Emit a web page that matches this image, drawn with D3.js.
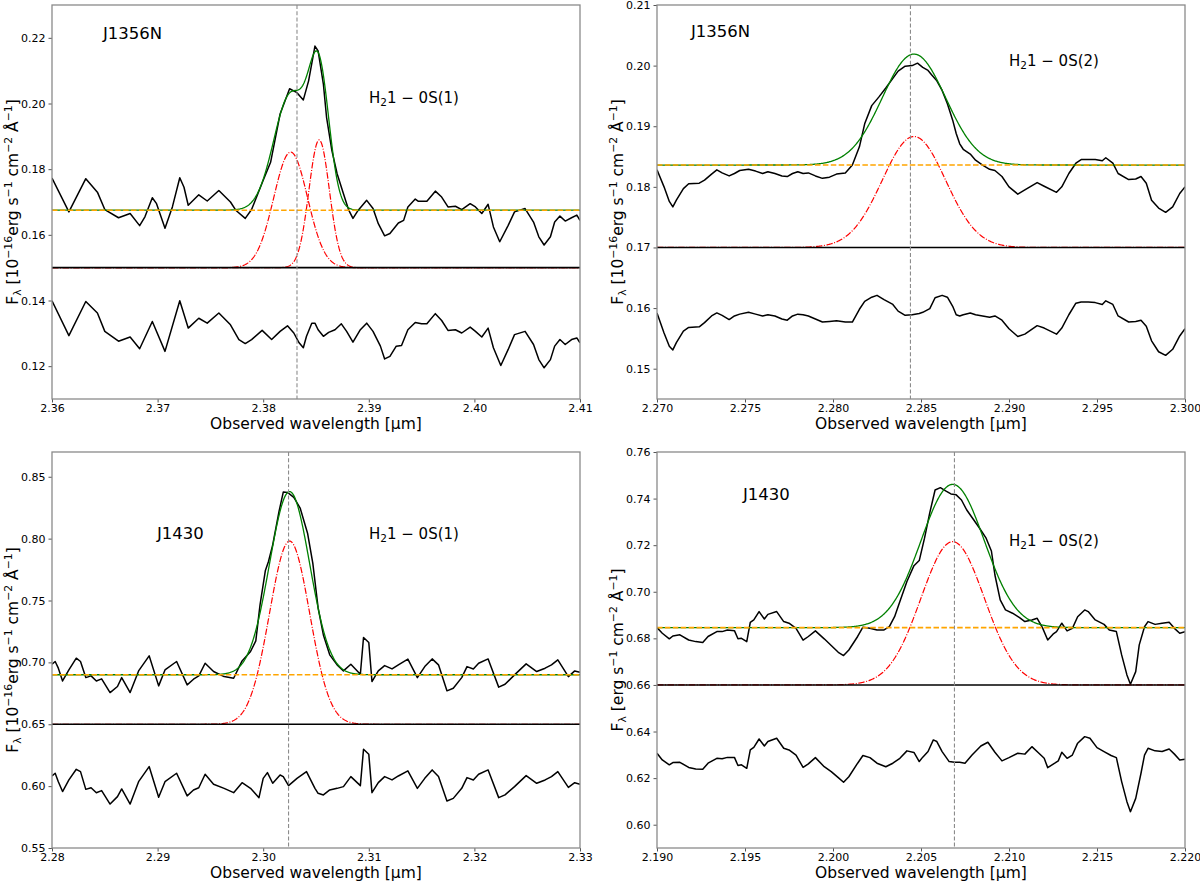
<!DOCTYPE html>
<html>
<head>
<meta charset="utf-8">
<script src="https://cdn.jsdelivr.net/npm/d3@7"></script>
<style>
  body { margin: 0; background: #fff; }
  svg { display: block; font-family: "DejaVu Sans", sans-serif; }
</style>
</head>
<body>
<svg id="fig" width="1200" height="882"></svg>
<script>
// ---- J1356N, H2 1-0S(1) ----
const j1356S1Spec = [[2.3600,0.1773],[2.3616,0.1670],[2.3632,0.1771],[2.3643,0.1730],[2.3650,0.1677],[2.3663,0.1652],[2.3674,0.1665],[2.3683,0.1628],[2.3688,0.1655],[2.3695,0.1713],[2.3699,0.1695],[2.3707,0.1620],[2.3714,0.1685],[2.3721,0.1774],[2.3725,0.1745],[2.3729,0.1690],[2.3739,0.1722],[2.3747,0.1703],[2.3758,0.1735],[2.3769,0.1700],[2.3774,0.1675],[2.3783,0.1650],[2.3789,0.1677],[2.3800,0.1766],[2.3807,0.1821],[2.3816,0.1968],[2.3825,0.2045],[2.3832,0.2033],[2.3838,0.2011],[2.3843,0.2069],[2.3849,0.2175],[2.3852,0.2160],[2.3857,0.2059],[2.3860,0.1958],[2.3865,0.1857],[2.3870,0.1786],[2.3876,0.1725],[2.3881,0.1675],[2.3885,0.1650],[2.3890,0.1675],[2.3898,0.1705],[2.3904,0.1680],[2.3909,0.1634],[2.3915,0.1597],[2.3920,0.1604],[2.3928,0.1636],[2.3933,0.1644],[2.3937,0.1685],[2.3944,0.1709],[2.3947,0.1702],[2.3955,0.1702],[2.3963,0.1733],[2.3969,0.1715],[2.3975,0.1685],[2.3982,0.1687],[2.3988,0.1677],[2.3996,0.1695],[2.4001,0.1685],[2.4007,0.1665],[2.4013,0.1693],[2.4018,0.1624],[2.4024,0.1579],[2.4032,0.1629],[2.4038,0.1670],[2.4048,0.1680],[2.4056,0.1639],[2.4061,0.1594],[2.4066,0.1569],[2.4072,0.1594],[2.4076,0.1639],[2.4081,0.1657],[2.4086,0.1642],[2.4092,0.1652],[2.4097,0.1660],[2.4100,0.1644]];
const j1356S1Resid = [[2.3600,0.1399],[2.3616,0.1293],[2.3632,0.1397],[2.3643,0.1362],[2.3650,0.1306],[2.3663,0.1276],[2.3674,0.1289],[2.3683,0.1253],[2.3695,0.1336],[2.3707,0.1245],[2.3721,0.1399],[2.3729,0.1316],[2.3739,0.1346],[2.3747,0.1331],[2.3758,0.1362],[2.3769,0.1326],[2.3777,0.1281],[2.3783,0.1269],[2.3789,0.1281],[2.3799,0.1309],[2.3808,0.1281],[2.3816,0.1306],[2.3823,0.1323],[2.3829,0.1301],[2.3834,0.1271],[2.3838,0.1256],[2.3841,0.1291],[2.3846,0.1331],[2.3849,0.1331],[2.3852,0.1311],[2.3857,0.1291],[2.3862,0.1303],[2.3868,0.1311],[2.3874,0.1329],[2.3879,0.1306],[2.3885,0.1273],[2.3892,0.1311],[2.3898,0.1331],[2.3904,0.1306],[2.3911,0.1261],[2.3915,0.1222],[2.3920,0.1230],[2.3926,0.1261],[2.3931,0.1263],[2.3937,0.1311],[2.3944,0.1333],[2.3950,0.1329],[2.3955,0.1329],[2.3963,0.1360],[2.3969,0.1339],[2.3975,0.1309],[2.3982,0.1311],[2.3988,0.1301],[2.3996,0.1319],[2.4001,0.1306],[2.4007,0.1289],[2.4013,0.1316],[2.4018,0.1256],[2.4025,0.1202],[2.4032,0.1251],[2.4038,0.1296],[2.4048,0.1306],[2.4056,0.1266],[2.4061,0.1220],[2.4066,0.1195],[2.4072,0.1220],[2.4076,0.1261],[2.4081,0.1281],[2.4086,0.1266],[2.4092,0.1281],[2.4097,0.1286],[2.4100,0.1271]];
// gaussian components: [centre µm, peak height, sigma µm]
const j1356S1Gauss = [[2.3826,0.0352,0.0016],[2.3853,0.0389,0.00097]];
const j1356S1Levels = { continuum: 0.1675, base: 0.15, line: 2.3832 };
const j1356S1XTicks = [2.36, 2.37, 2.38, 2.39, 2.40, 2.41];
const j1356S1YTicks = [0.12, 0.14, 0.16, 0.18, 0.20, 0.22];

// ---- J1356N, H2 1-0S(2) ----
const j1356S2Spec = [[2.2700,0.1828],[2.2704,0.1800],[2.2707,0.1776],[2.2709,0.1767],[2.2711,0.1778],[2.2715,0.1797],[2.2718,0.1805],[2.2724,0.1806],[2.2727,0.1811],[2.2731,0.1821],[2.2734,0.1828],[2.2737,0.1823],[2.2741,0.1818],[2.2744,0.1822],[2.2747,0.1827],[2.2752,0.1829],[2.2756,0.1826],[2.2760,0.1822],[2.2763,0.1825],[2.2767,0.1822],[2.2771,0.1818],[2.2774,0.1817],[2.2777,0.1822],[2.2780,0.1825],[2.2783,0.1822],[2.2786,0.1823],[2.2790,0.1818],[2.2794,0.1814],[2.2798,0.1816],[2.2802,0.1821],[2.2807,0.1823],[2.2811,0.1836],[2.2815,0.1866],[2.2818,0.1904],[2.2822,0.1934],[2.2826,0.1948],[2.2830,0.1963],[2.2834,0.1979],[2.2837,0.1991],[2.2841,0.1999],[2.2845,0.2000],[2.2848,0.2004],[2.2851,0.1997],[2.2854,0.1992],[2.2856,0.1985],[2.2859,0.1975],[2.2862,0.1959],[2.2865,0.1937],[2.2868,0.1910],[2.2870,0.1888],[2.2872,0.1871],[2.2874,0.1862],[2.2878,0.1854],[2.2881,0.1844],[2.2885,0.1836],[2.2889,0.1829],[2.2892,0.1827],[2.2896,0.1817],[2.2900,0.1800],[2.2905,0.1788],[2.2909,0.1795],[2.2916,0.1807],[2.2920,0.1801],[2.2927,0.1791],[2.2930,0.1800],[2.2934,0.1822],[2.2938,0.1839],[2.2941,0.1845],[2.2945,0.1845],[2.2949,0.1845],[2.2953,0.1843],[2.2955,0.1848],[2.2959,0.1839],[2.2962,0.1822],[2.2968,0.1812],[2.2972,0.1813],[2.2975,0.1817],[2.2978,0.1806],[2.2981,0.1778],[2.2985,0.1765],[2.2989,0.1758],[2.2993,0.1767],[2.2997,0.1789],[2.3000,0.1800]];
const j1356S2Resid = [[2.2700,0.1592],[2.2704,0.1559],[2.2707,0.1537],[2.2709,0.1531],[2.2711,0.1543],[2.2715,0.1562],[2.2718,0.1568],[2.2724,0.1569],[2.2727,0.1576],[2.2731,0.1587],[2.2734,0.1592],[2.2737,0.1588],[2.2741,0.1581],[2.2744,0.1587],[2.2747,0.1590],[2.2752,0.1593],[2.2756,0.1590],[2.2760,0.1587],[2.2763,0.1589],[2.2767,0.1587],[2.2771,0.1582],[2.2774,0.1580],[2.2777,0.1587],[2.2780,0.1590],[2.2783,0.1589],[2.2786,0.1587],[2.2790,0.1582],[2.2794,0.1577],[2.2798,0.1578],[2.2802,0.1579],[2.2807,0.1577],[2.2811,0.1577],[2.2815,0.1598],[2.2818,0.1611],[2.2822,0.1618],[2.2825,0.1621],[2.2829,0.1614],[2.2834,0.1606],[2.2837,0.1595],[2.2841,0.1588],[2.2845,0.1589],[2.2849,0.1591],[2.2851,0.1593],[2.2855,0.1599],[2.2858,0.1617],[2.2862,0.1621],[2.2865,0.1618],[2.2868,0.1603],[2.2870,0.1589],[2.2872,0.1587],[2.2874,0.1589],[2.2878,0.1592],[2.2881,0.1589],[2.2885,0.1587],[2.2889,0.1585],[2.2892,0.1587],[2.2896,0.1580],[2.2900,0.1566],[2.2905,0.1553],[2.2909,0.1557],[2.2916,0.1571],[2.2920,0.1567],[2.2927,0.1557],[2.2930,0.1567],[2.2934,0.1589],[2.2938,0.1608],[2.2941,0.1610],[2.2945,0.1610],[2.2949,0.1609],[2.2953,0.1606],[2.2955,0.1612],[2.2959,0.1606],[2.2962,0.1587],[2.2968,0.1577],[2.2972,0.1578],[2.2975,0.1580],[2.2978,0.1570],[2.2981,0.1546],[2.2985,0.1528],[2.2989,0.1522],[2.2993,0.1532],[2.2997,0.1554],[2.3000,0.1566]];
const j1356S2Gauss = [[2.2846,0.0183,0.0018]];
const j1356S2Levels = { continuum: 0.1836, base: 0.17, line: 2.2844 };
const j1356S2XTicks = [2.270, 2.275, 2.280, 2.285, 2.290, 2.295, 2.300];
const j1356S2YTicks = [0.15, 0.16, 0.17, 0.18, 0.19, 0.20, 0.21];

// ---- J1430, H2 1-0S(1) ----
const j1430S1Spec = [[2.2800,0.6985],[2.2803,0.7007],[2.2806,0.6953],[2.2810,0.6850],[2.2816,0.6939],[2.2823,0.7034],[2.2827,0.7007],[2.2832,0.6877],[2.2837,0.6891],[2.2842,0.6850],[2.2847,0.6867],[2.2855,0.6756],[2.2862,0.6805],[2.2866,0.6877],[2.2874,0.6756],[2.2882,0.6931],[2.2892,0.7053],[2.2901,0.6810],[2.2907,0.6939],[2.2918,0.7007],[2.2928,0.6818],[2.2934,0.6864],[2.2939,0.6891],[2.2945,0.6993],[2.2953,0.6926],[2.2963,0.6885],[2.2972,0.6872],[2.2980,0.7012],[2.2988,0.7088],[2.2993,0.7174],[2.2997,0.7465],[2.3002,0.7740],[2.3005,0.7815],[2.3009,0.7950],[2.3015,0.8220],[2.3019,0.8376],[2.3023,0.8373],[2.3029,0.8333],[2.3035,0.8247],[2.3042,0.8044],[2.3047,0.7800],[2.3052,0.7440],[2.3057,0.7222],[2.3063,0.7061],[2.3070,0.6980],[2.3076,0.6931],[2.3083,0.6985],[2.3092,0.6904],[2.3095,0.7201],[2.3100,0.7160],[2.3103,0.6845],[2.3109,0.6931],[2.3115,0.6974],[2.3122,0.6947],[2.3128,0.6980],[2.3137,0.7026],[2.3146,0.6877],[2.3153,0.6966],[2.3160,0.7028],[2.3166,0.6980],[2.3174,0.6770],[2.3180,0.6791],[2.3188,0.6877],[2.3193,0.6966],[2.3199,0.6947],[2.3204,0.6993],[2.3213,0.7028],[2.3223,0.6800],[2.3229,0.6823],[2.3238,0.6899],[2.3249,0.6988],[2.3259,0.6926],[2.3267,0.6953],[2.3273,0.6980],[2.3279,0.7020],[2.3289,0.6885],[2.3295,0.6931],[2.3300,0.6920]];
const j1430S1Resid = [[2.2800,0.6082],[2.2803,0.6104],[2.2806,0.6036],[2.2810,0.5956],[2.2816,0.6050],[2.2823,0.6136],[2.2827,0.6117],[2.2832,0.5974],[2.2837,0.5987],[2.2842,0.5947],[2.2847,0.5964],[2.2855,0.5855],[2.2862,0.5915],[2.2866,0.5977],[2.2874,0.5855],[2.2882,0.6036],[2.2892,0.6158],[2.2901,0.5910],[2.2907,0.6036],[2.2918,0.6104],[2.2928,0.5921],[2.2934,0.5969],[2.2939,0.5987],[2.2945,0.6096],[2.2953,0.6015],[2.2963,0.5982],[2.2972,0.5947],[2.2980,0.6028],[2.2988,0.5982],[2.2996,0.5907],[2.3000,0.6063],[2.3004,0.6109],[2.3009,0.6023],[2.3016,0.6090],[2.3019,0.6077],[2.3024,0.6004],[2.3032,0.6063],[2.3041,0.6117],[2.3049,0.5982],[2.3052,0.5942],[2.3057,0.5929],[2.3063,0.5969],[2.3070,0.5982],[2.3076,0.5996],[2.3083,0.6077],[2.3092,0.6004],[2.3095,0.6298],[2.3100,0.6257],[2.3103,0.5947],[2.3109,0.6028],[2.3115,0.6077],[2.3122,0.6050],[2.3128,0.6082],[2.3137,0.6123],[2.3146,0.5982],[2.3153,0.6063],[2.3160,0.6131],[2.3166,0.6077],[2.3174,0.5880],[2.3180,0.5901],[2.3188,0.5982],[2.3193,0.6069],[2.3199,0.6050],[2.3204,0.6096],[2.3213,0.6131],[2.3223,0.5907],[2.3229,0.5929],[2.3238,0.5996],[2.3249,0.6085],[2.3259,0.6023],[2.3267,0.6050],[2.3273,0.6077],[2.3279,0.6117],[2.3289,0.5990],[2.3295,0.6028],[2.3300,0.6015]];
const j1430S1Gauss = [[2.3025,0.148,0.0019]];
const j1430S1Levels = { continuum: 0.69, base: 0.65, line: 2.3024 };
const j1430S1XTicks = [2.28, 2.29, 2.30, 2.31, 2.32, 2.33];
const j1430S1YTicks = [0.55, 0.60, 0.65, 0.70, 0.75, 0.80, 0.85];

// ---- J1430, H2 1-0S(2) ----
const j1430S2Spec = [[2.1900,0.6846],[2.1903,0.6822],[2.1907,0.6798],[2.1909,0.6810],[2.1913,0.6815],[2.1918,0.6793],[2.1922,0.6786],[2.1926,0.6782],[2.1929,0.6808],[2.1934,0.6829],[2.1937,0.6829],[2.1940,0.6836],[2.1944,0.6833],[2.1946,0.6798],[2.1948,0.6800],[2.1951,0.6786],[2.1953,0.6869],[2.1955,0.6879],[2.1958,0.6915],[2.1961,0.6883],[2.1963,0.6903],[2.1968,0.6915],[2.1972,0.6872],[2.1975,0.6865],[2.1979,0.6843],[2.1983,0.6792],[2.1986,0.6808],[2.1990,0.6832],[2.1995,0.6798],[2.1999,0.6769],[2.2003,0.6740],[2.2006,0.6726],[2.2009,0.6750],[2.2014,0.6808],[2.2017,0.6848],[2.2021,0.6843],[2.2025,0.6836],[2.2029,0.6836],[2.2032,0.6850],[2.2035,0.6893],[2.2038,0.6958],[2.2042,0.7044],[2.2046,0.7112],[2.2049,0.7134],[2.2052,0.7230],[2.2055,0.7340],[2.2058,0.7437],[2.2061,0.7447],[2.2064,0.7433],[2.2067,0.7420],[2.2070,0.7416],[2.2073,0.7394],[2.2076,0.7351],[2.2080,0.7308],[2.2083,0.7276],[2.2087,0.7230],[2.2090,0.7175],[2.2092,0.7072],[2.2095,0.6965],[2.2098,0.6922],[2.2102,0.6908],[2.2106,0.6889],[2.2109,0.6872],[2.2113,0.6879],[2.2116,0.6886],[2.2119,0.6846],[2.2122,0.6793],[2.2125,0.6818],[2.2127,0.6829],[2.2130,0.6865],[2.2133,0.6832],[2.2136,0.6843],[2.2139,0.6893],[2.2143,0.6922],[2.2145,0.6915],[2.2149,0.6879],[2.2154,0.6860],[2.2157,0.6836],[2.2161,0.6829],[2.2164,0.6729],[2.2167,0.6643],[2.2169,0.6603],[2.2172,0.6657],[2.2174,0.6772],[2.2177,0.6850],[2.2179,0.6872],[2.2183,0.6860],[2.2187,0.6865],[2.2191,0.6869],[2.2194,0.6843],[2.2197,0.6822],[2.2200,0.6829]];
const j1430S2Resid = [[2.1900,0.6307],[2.1903,0.6278],[2.1907,0.6257],[2.1909,0.6267],[2.1913,0.6268],[2.1918,0.6246],[2.1922,0.6239],[2.1926,0.6238],[2.1929,0.6264],[2.1934,0.6285],[2.1937,0.6283],[2.1940,0.6289],[2.1944,0.6289],[2.1946,0.6254],[2.1948,0.6257],[2.1951,0.6242],[2.1953,0.6321],[2.1955,0.6332],[2.1958,0.6368],[2.1961,0.6338],[2.1963,0.6357],[2.1968,0.6371],[2.1972,0.6328],[2.1975,0.6321],[2.1979,0.6299],[2.1983,0.6246],[2.1986,0.6261],[2.1990,0.6288],[2.1995,0.6249],[2.1999,0.6228],[2.2003,0.6202],[2.2006,0.6182],[2.2009,0.6206],[2.2014,0.6264],[2.2017,0.6297],[2.2021,0.6288],[2.2025,0.6264],[2.2030,0.6249],[2.2034,0.6264],[2.2038,0.6285],[2.2042,0.6317],[2.2046,0.6310],[2.2049,0.6271],[2.2051,0.6290],[2.2054,0.6314],[2.2057,0.6364],[2.2059,0.6357],[2.2062,0.6314],[2.2066,0.6271],[2.2069,0.6268],[2.2072,0.6268],[2.2075,0.6264],[2.2079,0.6299],[2.2084,0.6338],[2.2088,0.6354],[2.2092,0.6311],[2.2096,0.6274],[2.2100,0.6288],[2.2105,0.6307],[2.2109,0.6303],[2.2113,0.6335],[2.2117,0.6307],[2.2120,0.6285],[2.2122,0.6245],[2.2126,0.6264],[2.2128,0.6274],[2.2130,0.6311],[2.2133,0.6285],[2.2136,0.6299],[2.2139,0.6350],[2.2143,0.6378],[2.2146,0.6371],[2.2150,0.6331],[2.2154,0.6314],[2.2158,0.6297],[2.2161,0.6288],[2.2164,0.6185],[2.2167,0.6099],[2.2169,0.6056],[2.2172,0.6113],[2.2175,0.6221],[2.2177,0.6299],[2.2179,0.6328],[2.2183,0.6317],[2.2187,0.6314],[2.2191,0.6325],[2.2194,0.6303],[2.2197,0.6278],[2.2200,0.6281]];
const j1430S2Gauss = [[2.2068,0.0615,0.0018]];
const j1430S2Levels = { continuum: 0.6846, base: 0.66, line: 2.2069 };
const j1430S2XTicks = [2.190, 2.195, 2.200, 2.205, 2.210, 2.215, 2.220];
const j1430S2YTicks = [0.60, 0.62, 0.64, 0.66, 0.68, 0.70, 0.72, 0.74, 0.76];

// label pieces: [text, 0 normal / 1 superscript / -1 subscript]
const yLabelScaled = [["F",0],["λ",-1],[" [10",0],["−16",1],["erg s",0],["−1",1],[" cm",0],["−2",1],[" Å",0],["−1",1],["]",0]];
const yLabelPlain = [["F",0],["λ",-1],[" [erg s",0],["−1",1],[" cm",0],["−2",1],[" Å",0],["−1",1],["]",0]];
const lineS1 = [["H",0],["2",-1],["1 − 0S(1)",0]];
const lineS2 = [["H",0],["2",-1],["1 − 0S(2)",0]];

// Colours
const INK = "#000";
const FRAME = "#8a8a8a";
const GREEN = "#008000";
const RED = "#ff0000";
const ORANGE = "#ffa500";
const GRAY = "#8c8c8c";

const panels = [
  { id: 1, spec: j1356S1Spec, resid: j1356S1Resid, gauss: j1356S1Gauss, lv: j1356S1Levels,
    xDomain: [2.36, 2.41], yDomain: [0.11, 0.23], xTicks: j1356S1XTicks, yTicks: j1356S1YTicks, xFmt: ".2f",
    box: { left: 52, right: 580, top: 5, bottom: 399 }, yLabel: yLabelScaled,
    name: "J1356N", nameAt: [51, 34], lineLabel: lineS1, lineAt: [317, 98] },
  { id: 2, spec: j1356S2Spec, resid: j1356S2Resid, gauss: j1356S2Gauss, lv: j1356S2Levels,
    xDomain: [2.27, 2.30], yDomain: [0.145, 0.21], xTicks: j1356S2XTicks, yTicks: j1356S2YTicks, xFmt: ".3f",
    box: { left: 657, right: 1185, top: 5, bottom: 399 }, yLabel: yLabelScaled,
    name: "J1356N", nameAt: [34, 32], lineLabel: lineS2, lineAt: [352, 61] },
  { id: 3, spec: j1430S1Spec, resid: j1430S1Resid, gauss: j1430S1Gauss, lv: j1430S1Levels,
    xDomain: [2.28, 2.33], yDomain: [0.55, 0.87], xTicks: j1430S1XTicks, yTicks: j1430S1YTicks, xFmt: ".2f",
    box: { left: 52, right: 580, top: 452, bottom: 848 }, yLabel: yLabelScaled,
    name: "J1430", nameAt: [105, 87], lineLabel: lineS1, lineAt: [317, 87] },
  { id: 4, spec: j1430S2Spec, resid: j1430S2Resid, gauss: j1430S2Gauss, lv: j1430S2Levels,
    xDomain: [2.19, 2.22], yDomain: [0.59, 0.76], xTicks: j1430S2XTicks, yTicks: j1430S2YTicks, xFmt: ".3f",
    box: { left: 657, right: 1185, top: 452, bottom: 848 }, yLabel: yLabelPlain,
    name: "J1430", nameAt: [86, 48], lineLabel: lineS2, lineAt: [352, 94] },
];

const svg = d3.select("#fig");

function richText(sel, parts, size) {
  let cur = 0;
  parts.forEach(([t, s]) => {
    const target = s === 1 ? -0.42 * size : s === -1 ? 0.22 * size : 0;
    sel.append("tspan")
      .attr("dy", (target - cur).toFixed(2))
      .attr("font-size", s ? size * 0.7 : size)
      .text(t);
    cur = target;
  });
}

panels.forEach(p => {
  const b = p.box;
  const x = d3.scaleLinear().domain(p.xDomain).range([b.left, b.right]);
  const y = d3.scaleLinear().domain(p.yDomain).range([b.bottom, b.top]);
  const line = d3.line().x(d => x(d[0])).y(d => y(d[1]));

  const clipId = "clip" + p.id;
  svg.append("clipPath").attr("id", clipId).append("rect")
    .attr("x", b.left).attr("y", b.top)
    .attr("width", b.right - b.left).attr("height", b.bottom - b.top);

  const g = svg.append("g").attr("clip-path", `url(#${clipId})`);

  // wavelength grid for the model curves
  const grid = d3.range(0, 801).map(i => p.xDomain[0] + (p.xDomain[1] - p.xDomain[0]) * i / 800);
  const gaussAt = (w, [c, a, s]) => a * Math.exp(-0.5 * ((w - c) / s) ** 2);

  // observed spectrum and residual
  g.append("path").datum(p.spec).attr("d", line)
    .attr("fill", "none").attr("stroke", INK).attr("stroke-width", 1.5).attr("stroke-linejoin", "round");
  g.append("path").datum(p.resid).attr("d", line)
    .attr("fill", "none").attr("stroke", INK).attr("stroke-width", 1.5).attr("stroke-linejoin", "round");

  // single gaussian components (red, dash-dot)
  p.gauss.forEach(comp => {
    g.append("path")
      .datum(grid.map(w => [w, p.lv.base + gaussAt(w, comp)]))
      .attr("d", line)
      .attr("fill", "none").attr("stroke", RED).attr("stroke-width", 1.2)
      .attr("stroke-dasharray", "6.4,1.6,1,1.6");
  });

  // zero level of the components
  g.append("line")
    .attr("x1", b.left).attr("x2", b.right)
    .attr("y1", y(p.lv.base)).attr("y2", y(p.lv.base))
    .attr("stroke", INK).attr("stroke-width", 1.6);

  // total fit (green)
  g.append("path")
    .datum(grid.map(w => [w, p.lv.continuum + d3.sum(p.gauss, c => gaussAt(w, c))]))
    .attr("d", line)
    .attr("fill", "none").attr("stroke", GREEN).attr("stroke-width", 1.3);

  // continuum (orange dashed)
  g.append("line")
    .attr("x1", b.left).attr("x2", b.right)
    .attr("y1", y(p.lv.continuum)).attr("y2", y(p.lv.continuum))
    .attr("stroke", ORANGE).attr("stroke-width", 1.6)
    .attr("stroke-dasharray", "5.5,2.4");

  // expected line position
  g.append("line")
    .attr("x1", x(p.lv.line)).attr("x2", x(p.lv.line))
    .attr("y1", b.top).attr("y2", b.bottom)
    .attr("stroke", GRAY).attr("stroke-width", 1.1)
    .attr("stroke-dasharray", "4,2.2");

  // axes
  const xAxis = d3.axisBottom(x).tickValues(p.xTicks).tickFormat(d3.format(p.xFmt))
    .tickSize(3.5).tickPadding(1.5);
  const yAxis = d3.axisLeft(y).tickValues(p.yTicks).tickFormat(d3.format(".2f"))
    .tickSize(3.5).tickPadding(3);

  const gx = svg.append("g").attr("transform", `translate(0,${b.bottom})`).call(xAxis);
  const gy = svg.append("g").attr("transform", `translate(${b.left},0)`).call(yAxis);
  [gx, gy].forEach(ax => {
    ax.select(".domain").remove();
    ax.selectAll(".tick line").attr("stroke", "#555");
    ax.selectAll(".tick text").attr("fill", INK).attr("font-size", 11)
      .attr("font-family", "DejaVu Sans, sans-serif");
  });

  // frame
  svg.append("rect")
    .attr("x", b.left).attr("y", b.top)
    .attr("width", b.right - b.left).attr("height", b.bottom - b.top)
    .attr("fill", "none").attr("stroke", FRAME).attr("stroke-width", 1.3);

  // axis titles
  svg.append("text")
    .attr("x", (b.left + b.right) / 2).attr("y", b.bottom + 30)
    .attr("text-anchor", "middle").attr("font-size", 15.5).attr("fill", INK)
    .text("Observed wavelength [μm]");

  const yl = svg.append("text")
    .attr("transform", `translate(${b.left - 34},${(b.top + b.bottom) / 2}) rotate(-90)`)
    .attr("text-anchor", "middle").attr("fill", INK);
  richText(yl, p.yLabel, 15.5);

  // annotations
  svg.append("text")
    .attr("x", b.left + p.nameAt[0]).attr("y", b.top + p.nameAt[1])
    .attr("font-size", 16.5).attr("fill", INK)
    .text(p.name);
  const ll = svg.append("text")
    .attr("x", b.left + p.lineAt[0]).attr("y", b.top + p.lineAt[1])
    .attr("fill", INK);
  richText(ll, p.lineLabel, 15);
});
</script>
</body>
</html>
